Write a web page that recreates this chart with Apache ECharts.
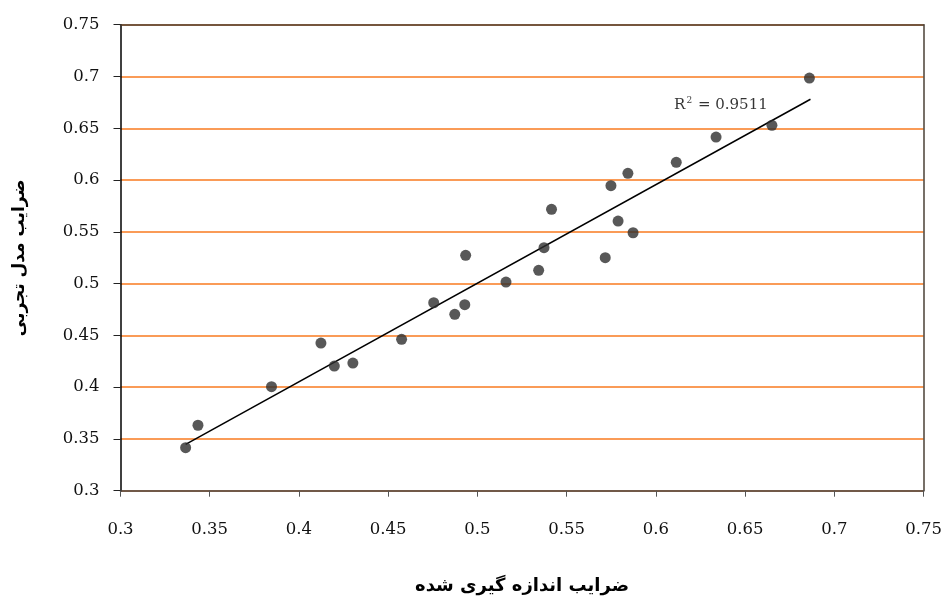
<!DOCTYPE html>
<html><head><meta charset="utf-8">
<script src="https://cdn.jsdelivr.net/npm/echarts@6/dist/echarts.min.js"></script>
<style>html,body{margin:0;padding:0;background:#fff}#c{width:945px;height:603px}</style>
</head><body><div id="c"></div>
<script>
const measured = [0.3365,0.3434,0.3846,0.4123,0.4198,0.4302,0.4575,0.4755,0.4873,0.4929,0.4934,0.5160,0.5343,0.5373,0.5415,0.5716,0.5748,0.5788,0.5843,0.5872,0.6114,0.6337,0.6650,0.6860];
const model    = [0.3415,0.3632,0.4004,0.4426,0.4204,0.4233,0.4462,0.4815,0.4703,0.4796,0.5273,0.5015,0.5128,0.5347,0.5717,0.5250,0.5945,0.5604,0.6065,0.5491,0.6171,0.6415,0.6528,0.6985];
const trendX = [0.3365, 0.6866];
const trendY = [0.3448, 0.6780];
const r2Pos = [0.6102, 0.6724];
const xTitle = 'ضرایب اندازه گیری شده';
const yTitle = 'ضرایب مدل تجربی';

const pts = measured.map((v,i)=>[v, model[i]]);
const trend = trendX.map((v,i)=>[v, trendY[i]]);
const serif = "'DejaVu Serif','Liberation Serif',serif";
const sans = "'DejaVu Sans','Noto Sans',sans-serif";
const fmt = v=>String(+v.toFixed(2));
const chart = echarts.init(document.getElementById('c'));
chart.setOption({
  animation:false,
  grid:{left:120.5,right:20,top:24.7,bottom:112.3,containLabel:false},
  xAxis:[{type:'value',min:0.3,max:0.75,interval:0.05,
    axisLine:{show:true,onZero:false,lineStyle:{color:'#444',width:1.5}},
    axisTick:{show:true,length:6,lineStyle:{color:'#555',width:1}},
    axisLabel:{fontFamily:serif,fontSize:16.5,color:'#111',margin:31,formatter:fmt},
    splitLine:{show:false},
    name:xTitle,nameLocation:'middle',nameGap:87,
    nameTextStyle:{fontFamily:sans,fontWeight:'bold',fontSize:18,color:'#000'}},
   {type:'value',position:'top',min:0.3,max:0.75,
    axisLine:{show:true,lineStyle:{color:'#4a4036',width:1.5}},axisTick:{show:false},axisLabel:{show:false},splitLine:{show:false}}],
  yAxis:[{type:'value',min:0.3,max:0.75,interval:0.05,
    axisLine:{show:true,onZero:false,lineStyle:{color:'#000',width:1.5}},
    axisTick:{show:true,length:7,lineStyle:{color:'#222',width:1}},
    axisLabel:{fontFamily:serif,fontSize:16.5,color:'#111',margin:21,formatter:fmt},
    splitLine:{show:true,lineStyle:{color:'#f97a1f',width:1.5}},
    name:yTitle,nameLocation:'middle',nameGap:92,nameRotate:90,
    nameTextStyle:{fontFamily:sans,fontWeight:'bold',fontSize:17,color:'#000'}},
   {type:'value',position:'right',min:0.3,max:0.75,
    axisLine:{show:true,lineStyle:{color:'#4a4036',width:1.5}},axisTick:{show:false},axisLabel:{show:false},splitLine:{show:false}}],
  series:[
    {type:'line',data:trend,symbol:'none',lineStyle:{color:'#000',width:1.5},z:3,silent:true},
    {type:'scatter',data:pts,symbol:'circle',symbolSize:11,itemStyle:{color:'#2e2e2e'},z:4},
    {type:'scatter',data:[r2Pos],symbolSize:0,silent:true,
     label:{show:true,position:'right',distance:0,
       formatter:'R{sup|2} = 0.9511',fontFamily:serif,fontSize:15,color:'#000',
       rich:{sup:{fontFamily:serif,fontSize:9,color:'#000',verticalAlign:'top',padding:[0,1,8,1]}}}}
  ]
});
</script></body></html>
